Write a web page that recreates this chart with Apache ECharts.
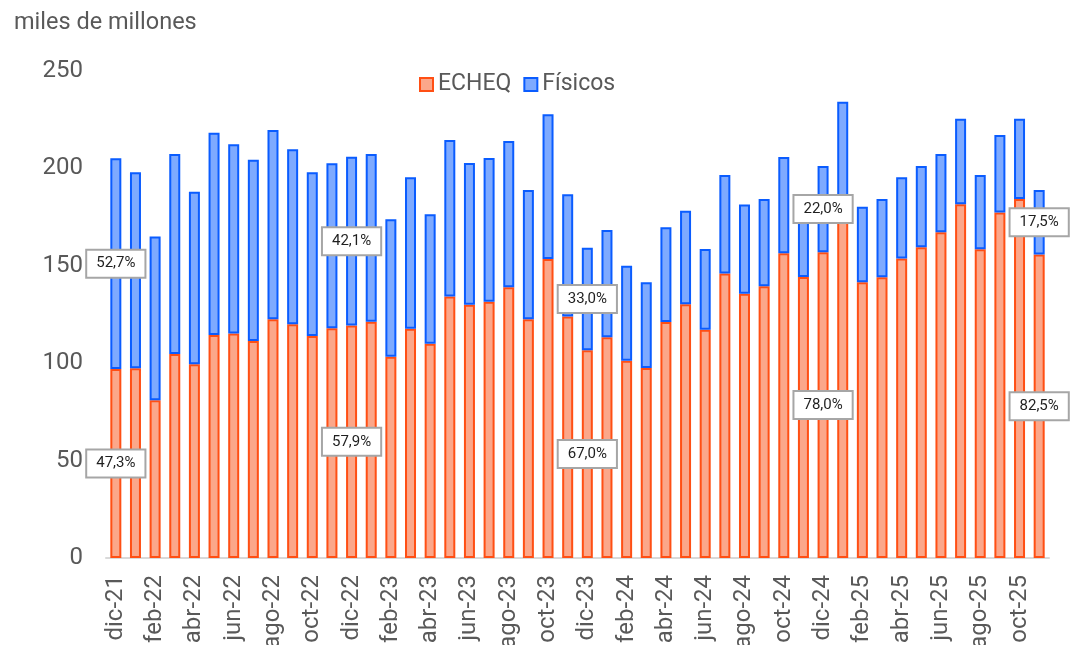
<!DOCTYPE html>
<html>
<head>
<meta charset="utf-8">
<script src="https://cdn.jsdelivr.net/npm/echarts@6/dist/echarts.min.js"></script>
<style>
  html, body { margin: 0; padding: 0; background: #fff; }
  #chart { width: 1072px; height: 645px; }
</style>
</head>
<body>
<div id="chart"></div>
<script>
// meses
const months = [
  'dic-21', 'ene-22', 'feb-22', 'mar-22', 'abr-22', 'may-22', 'jun-22', 'jul-22', 'ago-22', 'sep-22', 'oct-22', 'nov-22',
  'dic-22', 'ene-23', 'feb-23', 'mar-23', 'abr-23', 'may-23', 'jun-23', 'jul-23', 'ago-23', 'sep-23', 'oct-23', 'nov-23',
  'dic-23', 'ene-24', 'feb-24', 'mar-24', 'abr-24', 'may-24', 'jun-24', 'jul-24', 'ago-24', 'sep-24', 'oct-24', 'nov-24',
  'dic-24', 'ene-25', 'feb-25', 'mar-25', 'abr-25', 'may-25', 'jun-25', 'jul-25', 'ago-25', 'sep-25', 'oct-25', 'nov-25'
]

// ECHEQ (miles de millones)
const echeq = [
  97.0, 97.4, 81.0, 104.7, 99.4, 114.5, 115.3, 111.4, 122.5, 120.0, 114.0, 117.9,
  119.3, 121.3, 103.3, 117.7, 110.0, 134.2, 130.0, 131.6, 139.0, 122.5, 153.5, 124.0,
  106.7, 113.3, 101.3, 97.5, 121.1, 130.3, 117.2, 146.0, 135.7, 139.5, 156.4, 144.2,
  157.0, 176.0, 141.5, 144.1, 153.8, 159.5, 167.2, 181.6, 158.5, 177.3, 184.3, 155.8
]

// Físicos (miles de millones)
const fisicos = [
  108.2, 100.6, 84.0, 102.7, 88.6, 103.8, 97.1, 93.1, 97.2, 89.8, 84.0, 84.7,
  86.7, 86.1, 70.6, 77.7, 66.4, 80.4, 72.8, 73.7, 75.1, 66.4, 74.3, 62.7,
  52.6, 55.1, 48.7, 44.0, 48.7, 48.0, 41.4, 50.6, 45.8, 44.8, 49.4, 42.7,
  44.2, 58.2, 38.8, 40.2, 41.6, 41.7, 40.2, 43.9, 38.1, 39.8, 41.2, 33.1
]

// etiquetas de participación (diciembres y último mes)
const labelIdx = [0, 12, 24, 36, 47]
const echeqPct = ['47,3%', '57,9%', '67,0%', '78,0%', '82,5%']
const fisicosPct = ['52,7%', '42,1%', '33,0%', '22,0%', '17,5%']

const yTicks = [0, 50, 100, 150, 200, 250]

// recuadro blanco de las etiquetas
const boxLabel = {
  show: true,
  position: 'inside',
  backgroundColor: '#fff',
  borderColor: '#a6a6a6',
  borderWidth: 2,
  padding: [6, 9, 5, 9],
  fontFamily: 'Roboto',
  fontSize: 15,
  color: '#1f1f1f'
}

function withLabels(values, texts) {
  return values.map((v, i) => {
    const k = labelIdx.indexOf(i)
    if (k < 0) return v
    return { value: v, label: Object.assign({}, boxLabel, { formatter: texts[k] }) }
  })
}

const myChart = echarts.init(document.querySelector('#chart'))
const option = {
  animation: false,
  textStyle: { fontFamily: 'Roboto' },
  title: {
    text: 'miles de millones',
    left: 9,
    top: 6,
    textStyle: {
      fontSize: 23.5,
      fontWeight: 'normal',
      color: '#595959'
    }
  },
  legend: {
    top: 68,
    left: 414,
    itemWidth: 13,
    itemHeight: 13,
    itemGap: 12,
    textStyle: {
      fontSize: 23,
      color: '#595959'
    },
    data: [
      { name: 'ECHEQ', icon: 'rect' },
      { name: 'Físicos', icon: 'rect' }
    ]
  },
  grid: {
    left: 106,
    right: 23,
    top: 71,
    bottom: 87,
    containLabel: false,
    outerBoundsMode: 'none'
  },
  xAxis: {
    type: 'category',
    data: months,
    axisLine: {
      lineStyle: { color: '#d9d9d9', width: 2 }
    },
    axisTick: {
      interval: 1,
      length: 6,
      lineStyle: { color: '#d9d9d9', width: 2 }
    },
    axisLabel: {
      interval: 1,
      rotate: 90,
      margin: 17,
      fontSize: 24,
      color: '#595959'
    }
  },
  yAxis: {
    type: 'value',
    min: yTicks[0],
    max: yTicks[yTicks.length - 1],
    interval: 50,
    splitLine: { show: false },
    axisLine: { show: false },
    axisTick: { show: false },
    axisLabel: {
      margin: 23,
      fontSize: 24,
      color: '#595959'
    }
  },
  series: [
    {
      name: 'ECHEQ',
      type: 'bar',
      stack: 'total',
      barWidth: 11,
      itemStyle: {
        color: '#fba78a',
        borderColor: '#ff4f14',
        borderWidth: 2
      },
      data: withLabels(echeq, echeqPct)
    },
    {
      name: 'Físicos',
      type: 'bar',
      stack: 'total',
      barWidth: 11,
      itemStyle: {
        color: '#7eaaff',
        borderColor: '#0a5cff',
        borderWidth: 2
      },
      data: withLabels(fisicos, fisicosPct)
    }
  ]
}
myChart.setOption(option)
</script>
</body>
</html>
